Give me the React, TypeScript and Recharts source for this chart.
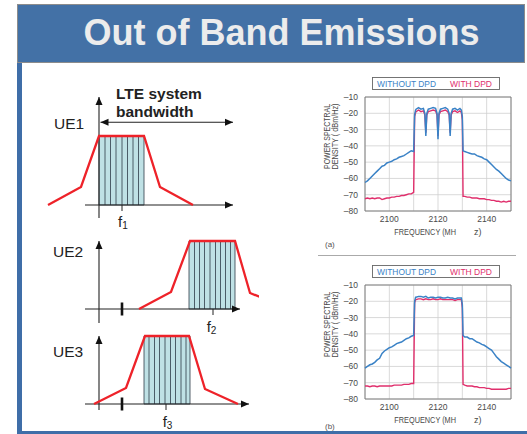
import React from 'react';
import {
  LineChart, Line, XAxis, YAxis, CartesianGrid, ReferenceArea, ReferenceLine, ReferenceDot, Legend,
} from 'recharts';

const FONT = '"Liberation Sans", Arial, sans-serif';
const BLUE = '#3a82c6';
const PINK = '#e02f6c';
const RED = '#ee2229';
const INK = '#2d3b48';
const FRAME = '#3f6ea8';

// ---- spectrum (a): four carriers with gaps ----
const freqA = [
  2090, 2091, 2092, 2093, 2094, 2095, 2096, 2097, 2098, 2099, 2100, 2101, 2102, 2103, 2104, 2105, 2106, 2107, 2108, 2109,
  2110, 2110.4, 2110.8, 2111, 2112, 2113, 2114, 2114.6, 2115, 2115.4, 2116, 2117, 2118, 2119, 2119.6, 2120, 2120.4,
  2121, 2122, 2123, 2124, 2124.6, 2125, 2125.4, 2126, 2127, 2128, 2129, 2129.6, 2130, 2130.3,
  2131, 2132, 2133, 2134, 2135, 2136, 2137, 2138, 2139, 2140, 2141, 2142, 2143, 2144, 2145, 2146, 2147, 2148, 2149, 2150,
];
const withoutDpdA = [
  -62.5, -61.5, -60, -58.5, -57, -55.5, -54, -52.5, -52, -50.5, -50, -49.5, -48.5, -48, -47, -46.5, -46, -45, -44, -43,
  -43.5, -21, -18, -17.5, -16.5, -17.5, -17, -20, -34, -20, -17.5, -17, -16.5, -17, -20, -36, -20,
  -17.5, -17, -16.5, -17.5, -20, -34, -20, -17.5, -17, -18, -17, -18, -22, -43,
  -43.5, -44, -44.5, -45, -45, -46, -46.5, -47, -48, -48.5, -50, -51.5, -53, -54.5, -55.5, -57, -58.5, -60, -61, -61.5,
];
const withDpdA = [
  -72.5, -72, -72.5, -72, -72.5, -72, -72, -73, -72.5, -72, -72, -71.5, -71.5, -71, -71, -70.5, -70.5, -70, -69.5, -69.5,
  -68.5, -22, -19.5, -19, -18, -19, -18.5, -21, -32, -21, -19, -18.5, -18, -18.5, -21, -34, -21,
  -19, -18.5, -18, -19, -21, -32, -21, -19, -18.5, -19.5, -18.5, -19.5, -24, -71,
  -71, -71.5, -71.5, -72, -72, -72, -72.5, -72.5, -72.5, -73, -73, -73.5, -73.5, -74, -74, -74.5, -74, -74.5, -74, -74,
];

// ---- spectrum (b): one wide carrier ----
const freqB = [
  2090, 2091, 2092, 2093, 2094, 2095, 2096, 2097, 2098, 2099, 2100, 2101, 2102, 2103, 2104, 2105, 2106, 2107, 2108, 2109,
  2110, 2110.4, 2110.8, 2111, 2112, 2113, 2114, 2115, 2116, 2117, 2118, 2119, 2120, 2121, 2122, 2123, 2124, 2125, 2126,
  2127, 2128, 2129, 2129.6, 2130, 2130.3,
  2131, 2132, 2133, 2134, 2135, 2136, 2137, 2138, 2139, 2140, 2141, 2142, 2143, 2144, 2145, 2146, 2147, 2148, 2149, 2150,
];
const withoutDpdB = [
  -61, -60, -59, -58.5, -57.5, -56, -55, -52, -50.5, -49.5, -48.5, -48, -47, -46, -45.5, -45, -44, -43, -42.5, -41.5,
  -41, -20, -17.5, -17.5, -17, -17, -17.5, -17, -18, -17.5, -17.5, -18, -17.5, -17.5, -18, -18, -17.5, -18, -18,
  -18.5, -18, -18, -18, -22, -41,
  -42, -42, -43, -43, -44, -45, -45.5, -46.5, -47, -48, -49, -50, -52, -54, -55.5, -57, -58, -59, -60, -61,
];
const withDpdB = [
  -72, -72, -72.5, -72, -72, -72.5, -72, -72, -72, -72, -72, -72, -71.5, -71.5, -71.5, -71.5, -71, -71, -71, -70.5,
  -70.5, -21, -19, -19, -18.5, -18.5, -19, -18.5, -19, -19, -18.5, -19, -19, -18.5, -19, -19, -19, -19, -19,
  -19.5, -19, -19, -19, -24, -71,
  -71.5, -72, -72, -72, -72.5, -72.5, -73, -73, -73, -73.5, -73.5, -74, -74, -74, -74, -74, -74, -74, -73.5, -73.5,
];

const yTicks = [-80, -70, -60, -50, -40, -30, -20, -10];
const xTicks = [2090, 2100, 2110, 2120, 2130, 2140, 2150];
const xLabelled = [2100, 2120, 2140];

// ---- UE spectrum masks (units: axis origin = 0) ----
const ue1X = [-5.1, -1.8, 0, 4.5, 6.1, 9.4];
const ue1Y = [0, 1.8, 6.9, 6.9, 1.8, 0];
const ue2X = [4.0, 7.2, 9.1, 13.6, 15.1, 16.1];
const ue2Y = [0, 1.7, 6.8, 6.8, 1.6, 1.2];
const ue3X = [-0.5, 2.7, 4.6, 9.0, 10.6, 13.9];
const ue3Y = [0, 1.6, 6.8, 6.8, 1.5, 0];

const ue1Band = [0, 4.5, 6.9];
const ue2Band = [9.0, 13.6, 6.8];
const ue3Band = [4.5, 9.1, 6.8];

const ue1Hatch = [0.6, 1.15, 1.7, 2.3, 2.85, 3.4, 3.95];
const ue2Hatch = [9.55, 10.05, 10.55, 11.1, 11.65, 12.15, 12.65, 13.15];
const ue3Hatch = [5.0, 5.55, 6.05, 6.6, 7.15, 7.65, 8.2, 8.7];

const arrowHead = (dir: 'up' | 'right' | 'left') => (p: any) => {
  const { cx, cy } = p;
  let d = '';
  if (dir === 'up') d = `M${cx},${cy} L${cx - 3.5},${cy + 8} L${cx + 3.5},${cy + 8} Z`;
  else if (dir === 'right') d = `M${cx},${cy} L${cx - 8},${cy - 3.5} L${cx - 8},${cy + 3.5} Z`;
  else d = `M${cx},${cy} L${cx + 8},${cy - 3.5} L${cx + 8},${cy + 3.5} Z`;
  return <path d={d} fill="#111" />;
};

function UeChart({ top, yMin, yMax, xs, ys, band, hatch, vAxis, hAxis, centre, guard, span }: any) {
  const data = xs.map((x: number, i: number) => ({ x, y: ys[i] }));
  const h = Math.round((yMax - yMin) * 10);
  return (
    <div style={{ position: 'absolute', left: 39, top, width: 220, height: h }}>
      <LineChart width={220} height={h} data={data} margin={{ top: 0, right: 0, bottom: 0, left: 0 }}>
        <XAxis dataKey="x" type="number" domain={[-6, 16]} hide allowDataOverflow />
        <YAxis type="number" domain={[yMin, yMax]} hide allowDataOverflow />
        <ReferenceArea x1={band[0]} x2={band[1]} y1={0} y2={band[2]} fill="#bfe1e5" fillOpacity={1} stroke={INK} strokeWidth={0.8} />
        {hatch.map((v: number) => (
          <ReferenceLine key={v} segment={[{ x: v, y: 0 }, { x: v, y: band[2] }]} stroke={INK} strokeWidth={0.8} />
        ))}
        <ReferenceLine segment={[{ x: 0, y: vAxis[0] }, { x: 0, y: vAxis[1] }]} stroke="#222" strokeWidth={1.1} />
        <ReferenceLine segment={[{ x: -1.4, y: 0 }, { x: hAxis, y: 0 }]} stroke="#222" strokeWidth={1.1} />
        <ReferenceDot x={0} y={vAxis[1]} r={3} shape={arrowHead('up')} ifOverflow="visible" />
        <ReferenceDot x={hAxis} y={0} r={3} shape={arrowHead('right')} ifOverflow="visible" />
        <ReferenceLine segment={[{ x: centre, y: -0.6 }, { x: centre, y: 0 }]} stroke="#222" strokeWidth={1} />
        {guard != null && (
          <ReferenceLine segment={[{ x: guard, y: -0.65 }, { x: guard, y: 0.65 }]} stroke="#111" strokeWidth={2.6} />
        )}
        {span && (
          <ReferenceLine segment={[{ x: span[0], y: span[2] }, { x: span[1], y: span[2] }]} stroke="#222" strokeWidth={1.1} />
        )}
        {span && <ReferenceDot x={span[0]} y={span[2]} r={3} shape={arrowHead('left')} ifOverflow="visible" />}
        {span && <ReferenceDot x={span[1]} y={span[2]} r={3} shape={arrowHead('right')} ifOverflow="visible" />}
        <Line dataKey="y" type="linear" stroke={RED} strokeWidth={2.3} dot={false} isAnimationActive={false} />
      </LineChart>
    </div>
  );
}

const renderLegend = () => (
  <svg width={128} height={13} style={{ display: 'block' }}>
    <rect x={0.5} y={0.5} width={127} height={12} fill="#fff" stroke="#666" strokeWidth={0.9} />
    <text x={5} y={10} fontSize={8.5} fontFamily={FONT} fill={BLUE} textLength={59} lengthAdjust="spacingAndGlyphs">WITHOUT DPD</text>
    <text x={78} y={10} fontSize={8.5} fontFamily={FONT} fill={PINK} textLength={42} lengthAdjust="spacingAndGlyphs">WITH DPD</text>
  </svg>
);

function Spectrum({ top, freq, without, withDpd }: any) {
  const data = freq.map((f: number, i: number) => ({ f, without: without[i], withDpd: withDpd[i] }));
  const tick = { fontSize: 8.5, fill: '#4a4a4a', fontFamily: FONT };
  return (
    <div style={{ position: 'absolute', left: 300, top, width: 227, height: 180 }}>
      <LineChart width={227} height={180} data={data} margin={{ top: 27, right: 16, bottom: 9, left: 40 }}>
        <CartesianGrid stroke="#cfcfcf" strokeWidth={0.8} />
        <XAxis
          dataKey="f" type="number" domain={[2090, 2150]} ticks={xTicks} interval={0}
          tickFormatter={(v: number) => (xLabelled.includes(v) ? String(v) : '')}
          tick={tick} tickLine={false} axisLine={false} tickSize={0} tickMargin={5} height={30}
        />
        <YAxis
          type="number" domain={[-80, -10]} ticks={yTicks} interval={0} width={25}
          tickFormatter={(v: number) => '\u2013' + Math.abs(v)}
          tick={tick} tickLine={false} axisLine={false} tickSize={0} tickMargin={7}
        />
        <ReferenceArea x1={2090} x2={2150} y1={-80} y2={-10} fill="none" stroke="#777" strokeWidth={0.9} />
        <Line dataKey="withDpd" type="linear" stroke={PINK} strokeWidth={1.4} dot={false} isAnimationActive={false} />
        <Line dataKey="without" type="linear" stroke={BLUE} strokeWidth={1.5} dot={false} isAnimationActive={false} />
        <Legend
          layout="horizontal" verticalAlign="middle" align="center" content={renderLegend}
          wrapperStyle={{ left: 72, top: 7, width: 128, height: 13 }}
        />
      </LineChart>
    </div>
  );
}

function AxisTexts({ plotTop }: { plotTop: number }) {
  const mid = plotTop + 39.5;
  const bottom = plotTop + 114;
  const lbl = { fontSize: 9, fill: '#4a4a4a', fontFamily: FONT };
  return (
    <g>
      <text {...lbl} transform={`translate(330,${mid + 32.5}) rotate(-90)`} textLength={65} lengthAdjust="spacingAndGlyphs">POWER SPECTRAL</text>
      <text {...lbl} transform={`translate(337.5,${mid + 33}) rotate(-90)`} textLength={66} lengthAdjust="spacingAndGlyphs">DENSITY (  dBm/Hz)</text>
      <text {...lbl} x={394.3} y={bottom + 23.5} textLength={61.7} lengthAdjust="spacingAndGlyphs">FREQUENCY (MH</text>
      <text {...lbl} x={474} y={bottom + 23.5}>z)</text>
    </g>
  );
}

export default function App() {
  return (
    <div style={{ position: 'fixed', left: 0, top: 0, width: 527, height: 434, background: '#fff', overflow: 'hidden' }}>
      <div style={{
        position: 'absolute', left: 17, top: 4, width: 508, height: 59, background: '#4371a6',
        border: '1.5px solid #8c8c8c', boxSizing: 'border-box',
      }} />
      <div style={{ position: 'absolute', left: 17, top: 63, width: 5, height: 371, background: FRAME }} />

      <UeChart top={88} yMin={-2.7} yMax={11.7} xs={ue1X} ys={ue1Y} band={ue1Band} hatch={ue1Hatch}
        vAxis={[-1.3, 10.8]} hAxis={13.4} centre={2.3} span={[0.15, 13.4, 8.27]} />
      <UeChart top={236} yMin={-2.5} yMax={7.3} xs={ue2X} ys={ue2Y} band={ue2Band} hatch={ue2Hatch}
        vAxis={[-1.4, 6.8]} hAxis={14.1} centre={11.4} guard={2.3} />
      <UeChart top={332} yMin={-2.6} yMax={7.2} xs={ue3X} ys={ue3Y} band={ue3Band} hatch={ue3Hatch}
        vAxis={[-0.6, 6.8]} hAxis={15.0} centre={6.7} guard={2.3} />

      <Spectrum top={70} freq={freqA} without={withoutDpdA} withDpd={withDpdA} />
      <Spectrum top={258} freq={freqB} without={withoutDpdB} withDpd={withDpdB} />

      <svg width={527} height={434} style={{ position: 'absolute', left: 0, top: 0, pointerEvents: 'none' }}>
        <text x={281.5} y={45} textAnchor="middle" fontSize={36} fontWeight="bold" fontFamily={FONT} fill="#ececec">
          Out of Band Emissions
        </text>
        <g fontFamily={FONT} fill="#222">
          <text x={116} y={99.3} fontSize={15.5} fontWeight="bold">LTE system</text>
          <text x={116} y={116.7} fontSize={15.5} fontWeight="bold">bandwidth</text>
          <text x={54} y={129.3} fontSize={15.5}>UE1</text>
          <text x={53} y={256.7} fontSize={15.5}>UE2</text>
          <text x={53} y={357.3} fontSize={15.5}>UE3</text>
          <text x={118} y={227.3} fontSize={15}>f<tspan fontSize={10} dy={2}>1</tspan></text>
          <text x={206.7} y={331.7} fontSize={15}>f<tspan fontSize={10} dy={2}>2</tspan></text>
          <text x={162.7} y={426.7} fontSize={15}>f<tspan fontSize={10} dy={2}>3</tspan></text>
        </g>
        <AxisTexts plotTop={97} />
        <AxisTexts plotTop={285} />
        <text x={325} y={247} fontSize={8} fontFamily={FONT} fill="#555">(a)</text>
        <text x={325} y={429} fontSize={8} fontFamily={FONT} fill="#555">(b)</text>
        <line x1={318} y1={255.5} x2={516} y2={255.5} stroke="#aaa" strokeWidth={1} />
      </svg>

      <div style={{ position: 'absolute', left: 17, top: 431, width: 510, height: 3, background: FRAME }} />
    </div>
  );
}
